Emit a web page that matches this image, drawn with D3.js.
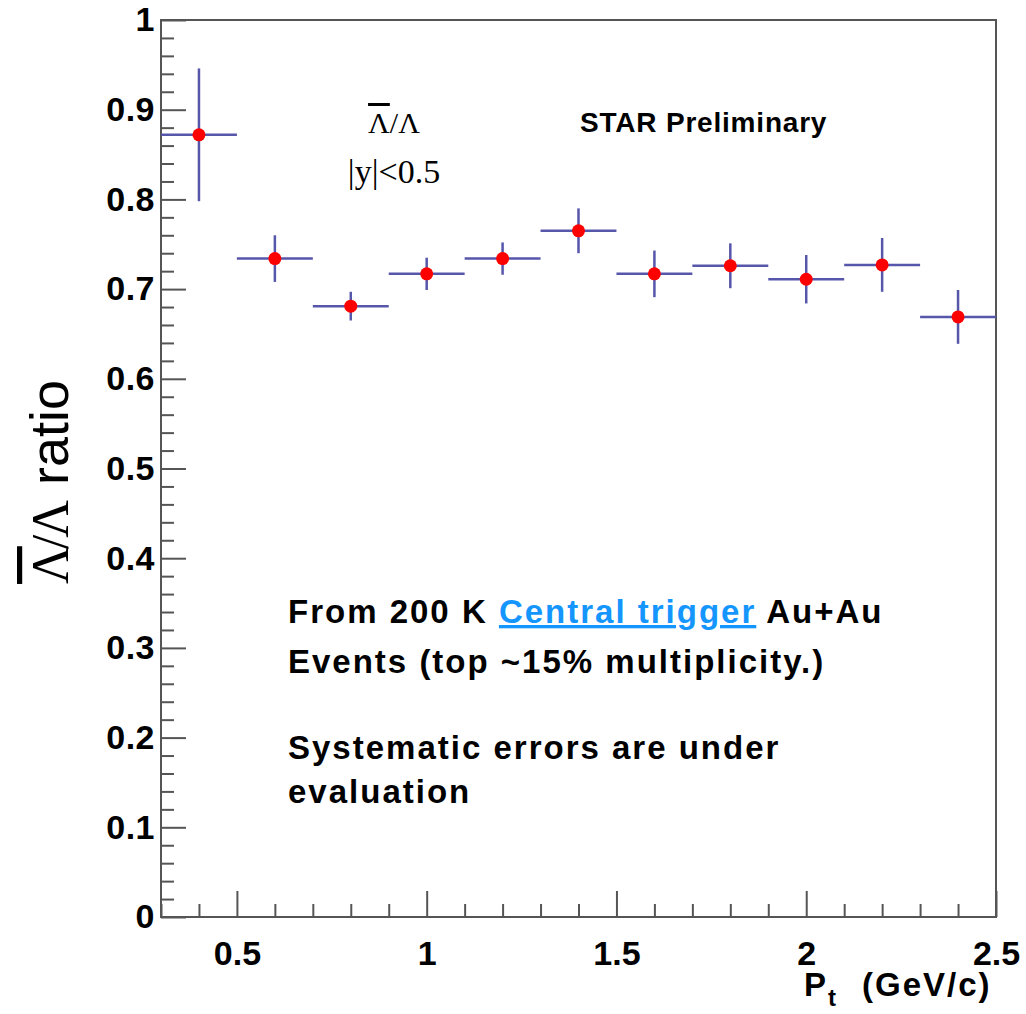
<!DOCTYPE html>
<html>
<head>
<meta charset="utf-8">
<script src="https://cdn.jsdelivr.net/npm/d3@7"></script>
<style>
  html, body { margin: 0; padding: 0; background: #fff; }
  svg text { font-family: "Liberation Sans", Arial, sans-serif; }
</style>
</head>
<body>
<div id="chart"></div>
<script>
// data
const ptValues = [0.4, 0.6, 0.8, 1.0, 1.2, 1.4, 1.6, 1.8, 2.0, 2.2, 2.4];
const ratioValues = [0.872, 0.734, 0.681, 0.717, 0.734, 0.765, 0.717, 0.726, 0.711, 0.727, 0.669];
const ratioErrors = [0.074, 0.026, 0.016, 0.018, 0.018, 0.025, 0.026, 0.025, 0.027, 0.030, 0.030];
const binHalfWidth = 0.1;
const xTickValues = [0.5, 1, 1.5, 2, 2.5];
const xTickLabels = ["0.5", "1", "1.5", "2", "2.5"];
const yTickValues = [0, 0.1, 0.2, 0.3, 0.4, 0.5, 0.6, 0.7, 0.8, 0.9, 1];
const yTickLabels = ["0", "0.1", "0.2", "0.3", "0.4", "0.5", "0.6", "0.7", "0.8", "0.9", "1"];
const noteLines = [
  ["From 200 K ", "Central trigger", " Au+Au"],
  ["Events (top ~15% multiplicity.)"],
  ["Systematic errors are under"],
  ["evaluation"]
];

const width = 1026, height = 1014;
const plotLeft = 161, plotRight = 996, plotTop = 20, plotBottom = 917;

const svg = d3.select("#chart").append("svg")
  .attr("width", width)
  .attr("height", height);

const x = d3.scaleLinear().domain([0.3, 2.5]).range([plotLeft, plotRight]);
const y = d3.scaleLinear().domain([0, 1]).range([plotBottom, plotTop]);

const axisColor = "#555";
const serif = "'Liberation Serif', 'Times New Roman', serif";

// minor ticks (every 0.1 on x, every 0.02 on y)
const xMinor = d3.range(3, 26).map(d => d / 10).filter(d => !xTickValues.some(t => Math.abs(t - d) < 1e-9));
const yMinor = d3.range(0, 51).map(d => d / 50).filter(d => !yTickValues.some(t => Math.abs(t - d) < 1e-9));

function styleAxis(g) {
  g.select(".domain").remove();
  g.selectAll("line").attr("stroke", axisColor).attr("stroke-width", 2);
}

// x axis
svg.append("g")
  .attr("transform", `translate(0,${plotBottom})`)
  .call(d3.axisBottom(x).tickValues(xMinor).tickSize(-13).tickFormat(""))
  .call(styleAxis);

svg.append("g")
  .attr("transform", `translate(0,${plotBottom})`)
  .call(d3.axisBottom(x).tickValues(xTickValues).tickSize(-26).tickPadding(24)
    .tickFormat((d, i) => xTickLabels[i]))
  .call(styleAxis)
  .call(g => g.selectAll("text")
    .attr("fill", "#000")
    .attr("dy", "0.71em")
    .style("font-size", "34px")
    .style("font-weight", "bold"));

// y axis
svg.append("g")
  .attr("transform", `translate(${plotLeft},0)`)
  .call(d3.axisLeft(y).tickValues(yMinor).tickSize(-13).tickFormat(""))
  .call(styleAxis);

svg.append("g")
  .attr("transform", `translate(${plotLeft},0)`)
  .call(d3.axisLeft(y).tickValues(yTickValues).tickSize(-25).tickPadding(7)
    .tickFormat((d, i) => yTickLabels[i]))
  .call(styleAxis)
  .call(g => g.selectAll("text")
    .attr("fill", "#000")
    .attr("x", -6)
    .style("font-size", "34px")
    .style("font-weight", "bold")
    .style("letter-spacing", "0.5px"));

// frame
svg.append("rect")
  .attr("x", plotLeft)
  .attr("y", plotTop)
  .attr("width", plotRight - plotLeft)
  .attr("height", plotBottom - plotTop)
  .attr("fill", "none")
  .attr("stroke", axisColor)
  .attr("stroke-width", 2);

// error bars
const errColor = "#5656aa";
const pts = ptValues.map((p, i) => ({ p, v: ratioValues[i], e: ratioErrors[i] }));

svg.selectAll(".xerr")
  .data(pts)
  .enter()
  .append("line")
  .attr("class", "xerr")
  .attr("x1", d => x(d.p - binHalfWidth))
  .attr("x2", d => x(d.p + binHalfWidth))
  .attr("y1", d => y(d.v))
  .attr("y2", d => y(d.v))
  .attr("stroke", errColor)
  .attr("stroke-width", 2.5);

svg.selectAll(".yerr")
  .data(pts)
  .enter()
  .append("line")
  .attr("class", "yerr")
  .attr("x1", d => x(d.p))
  .attr("x2", d => x(d.p))
  .attr("y1", d => y(d.v - d.e))
  .attr("y2", d => y(d.v + d.e))
  .attr("stroke", errColor)
  .attr("stroke-width", 2.5);

// markers
svg.selectAll(".pt")
  .data(pts)
  .enter()
  .append("circle")
  .attr("class", "pt")
  .attr("cx", d => x(d.p))
  .attr("cy", d => y(d.v))
  .attr("r", 6.5)
  .attr("fill", "#ff0000");

// y axis title
const yTitle = svg.append("text")
  .attr("transform", "translate(68,482) rotate(-90)")
  .attr("text-anchor", "middle")
  .attr("fill", "#000");
yTitle.append("tspan")
  .style("font-family", serif)
  .style("font-size", "52px")
  .style("text-decoration", "overline")
  .text("Λ");
yTitle.append("tspan")
  .style("font-family", serif)
  .style("font-size", "52px")
  .attr("dx", -3)
  .text("/");
yTitle.append("tspan")
  .style("font-family", serif)
  .style("font-size", "52px")
  .attr("dx", -3)
  .text("Λ");
yTitle.append("tspan")
  .style("font-size", "54px")
  .text(" ratio");

// x axis title
const xTitle = svg.append("text")
  .attr("x", 804)
  .attr("y", 996)
  .attr("fill", "#000")
  .style("font-size", "33px")
  .style("font-weight", "bold");
xTitle.append("tspan").style("letter-spacing", "2px").text("P");
xTitle.append("tspan").attr("dy", 10).style("font-size", "24px").text("t");
xTitle.append("tspan").attr("x", 862).attr("dy", -10)
  .style("letter-spacing", "2px").text("(GeV/c)");

// inset labels
const inset = svg.append("text")
  .attr("x", 394)
  .attr("y", 133)
  .attr("text-anchor", "middle")
  .attr("fill", "#000")
  .style("font-family", serif)
  .style("font-size", "30px");
inset.append("tspan").style("text-decoration", "overline").text("Λ");
inset.append("tspan").text("/Λ");

svg.append("text")
  .attr("x", 394)
  .attr("y", 183)
  .attr("text-anchor", "middle")
  .attr("fill", "#000")
  .style("font-family", serif)
  .style("font-size", "34px")
  .text("|y|<0.5");

svg.append("text")
  .attr("x", 580)
  .attr("y", 132)
  .attr("fill", "#000")
  .style("font-size", "28px")
  .style("font-weight", "bold")
  .style("letter-spacing", "0.8px")
  .text("STAR Preliminary");

// note block
const noteY = [623, 673, 759, 803];
noteLines.forEach((parts, i) => {
  const t = svg.append("text")
    .attr("x", 288)
    .attr("y", noteY[i])
    .attr("fill", "#000")
    .style("font-size", "33px")
    .style("font-weight", "bold")
    .style("letter-spacing", "2px");
  parts.forEach((s, j) => {
    const ts = t.append("tspan").text(s);
    if (j === 1) {
      ts.attr("fill", "#1596ff").style("text-decoration", "underline");
    }
  });
});
</script>
</body>
</html>
